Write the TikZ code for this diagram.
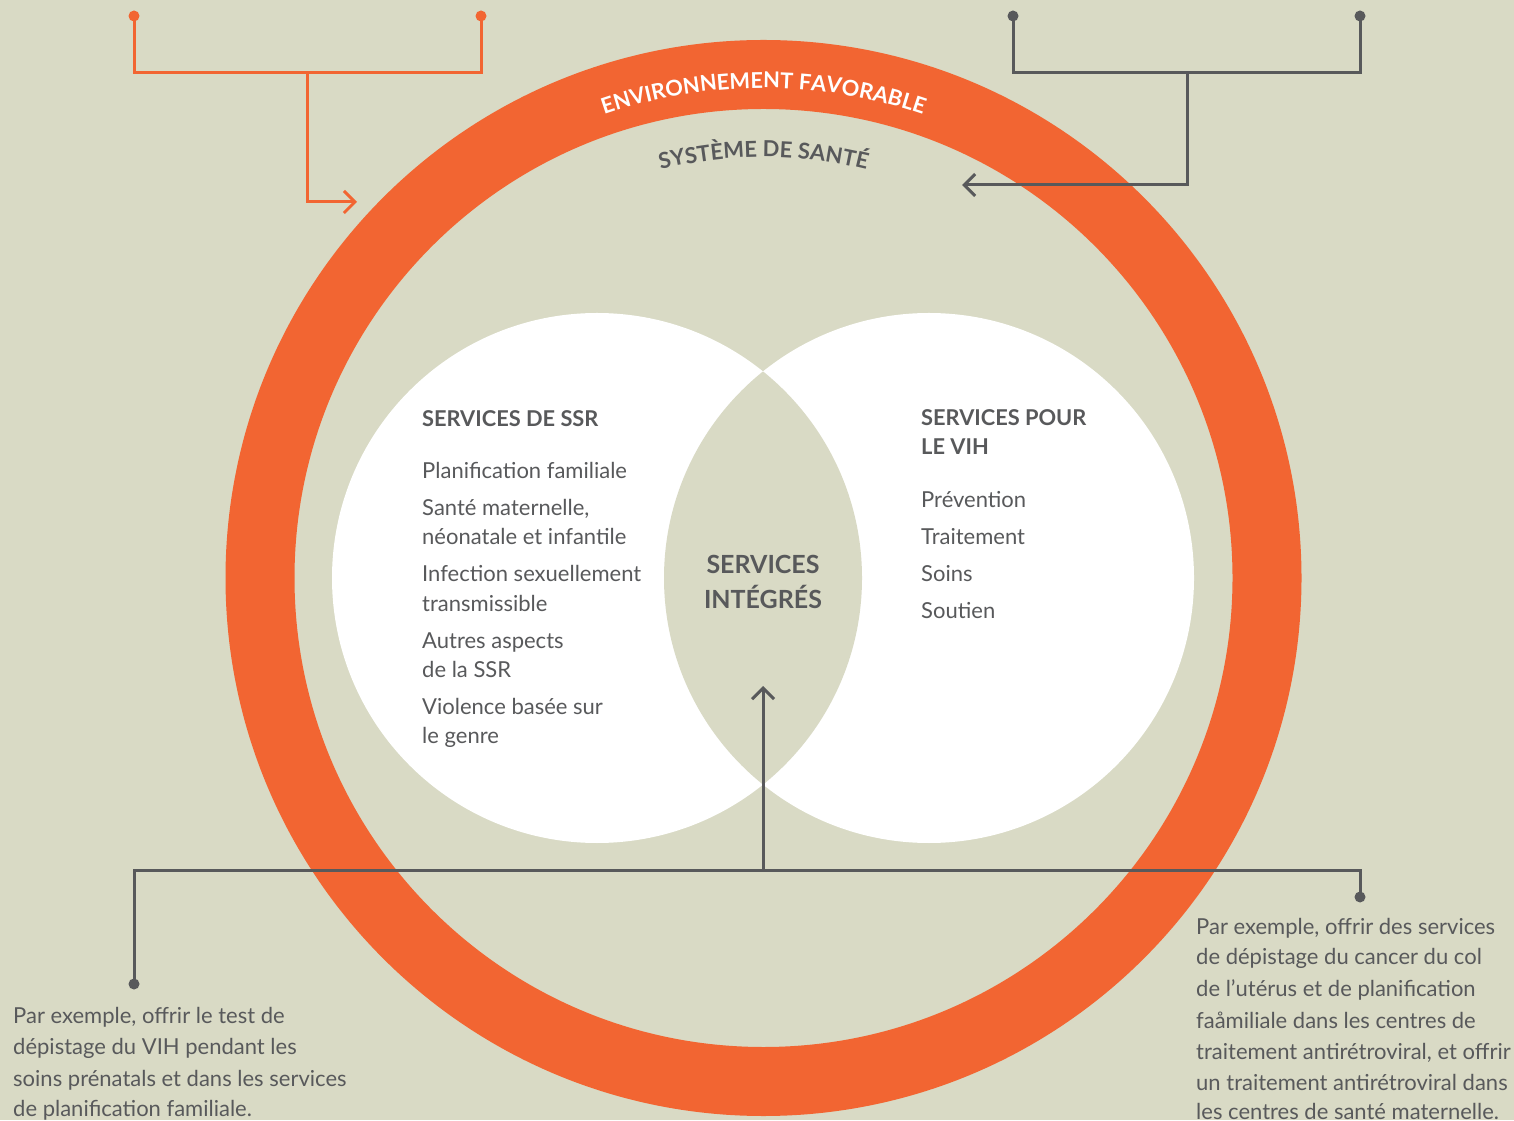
\documentclass[tikz,border=0pt]{standalone}
\usepackage{fontspec}
\setmainfont{Lato}
\usetikzlibrary{arrows.meta,decorations.text}
\definecolor{bgc}{RGB}{217,218,197}
\definecolor{ora}{RGB}{242,101,50}
\definecolor{gry}{RGB}{88,89,91}
\begin{document}
\begin{tikzpicture}[x=1pt,y=1pt,
  body/.style={anchor=base west, inner sep=0pt, text=gry, font=\fontsize{22}{26}\selectfont},
  head/.style={anchor=base west, inner sep=0pt, text=gry, font=\fontsize{21.8}{26}\selectfont\bfseries},
  mid/.style={anchor=base, inner sep=0pt, text=gry, font=\fontsize{25}{30}\selectfont\bfseries},
  odot/.style={circle, fill=ora, inner sep=0pt, minimum size=11pt},
  gdot/.style={circle, fill=gry, inner sep=0pt, minimum size=11pt},
  oline/.style={draw=ora, line width=3pt},
  gline/.style={draw=gry, line width=3pt},
  tip/.style={-{Straight Barb[length=11pt,width=22pt]}}
]
\useasboundingbox (0,0) rectangle (1514,1120);
\fill[bgc] (0,0) rectangle (1514,1120);
\coordinate (C) at (763.5,542);
\coordinate (L) at (597,542);
\coordinate (R) at (929,542);
% ring
\draw[ora, line width=69pt] (C) circle[radius=503.5pt];
% circles
\fill[white] (L) circle[radius=265pt];
\fill[white] (R) circle[radius=265pt];
\begin{scope}
  \clip (L) circle[radius=265pt];
  \fill[bgc] (R) circle[radius=265pt];
\end{scope}
% ring texts
\path[decorate, decoration={text along path, text align=center,
  text={|\fontsize{21.8}{22}\selectfont\bfseries\color{white}|ENVIRONNEMENT FAVORABLE}}]
  (C) ++(125:490pt) arc[start angle=125, end angle=55, radius=490pt];
\path[decorate, decoration={text along path, text align=center,
  text={|\fontsize{22}{22}\selectfont\bfseries\color{gry}|SYSTÈME DE SANTÉ}}]
  (C) ++(130:421pt) arc[start angle=130, end angle=50, radius=421pt];
% left circle text
\node[head] (lh) at (422,693) {SERVICES DE SSR};
\node[body] (l1) at (422,641.5) {Planification familiale};
\node[body] (l2) at (422,604.5) {Santé maternelle,};
\node[body] (l3) at (422,575.5) {néonatale et infantile};
\node[body] (l4) at (422,538.5) {Infection sexuellement};
\node[body] (l5) at (422,508.5) {transmissible};
\node[body] (l6) at (422,471.5) {Autres aspects};
\node[body] (l7) at (422,442.5) {de la SSR};
\node[body] (l8) at (422,405.5) {Violence basée sur};
\node[body] (l9) at (422,376.5) {le genre};
% right circle text
\node[head] (rh1) at (921,694) {SERVICES POUR};
\node[head] (rh2) at (921,665) {LE VIH};
\node[body] (r1) at (921,612.5) {Prévention};
\node[body] (r2) at (921,575.5) {Traitement};
\node[body] (r3) at (921,538.5) {Soins};
\node[body] (r4) at (921,501.5) {Soutien};
% centre
\node[mid] (m1) at (763,546) {SERVICES};
\node[mid] (m2) at (763,511) {INTÉGRÉS};
% bottom left text
\node[body] (bl1) at (13,97) {Par exemple, offrir le test de};
\node[body] (bl2) at (13,66) {dépistage du VIH pendant les};
\node[body] (bl3) at (13,34) {soins prénatals et dans les services};
\node[body] (bl4) at (13,4) {de planification familiale.};
% bottom right text
\node[body] (br1) at (1196,186) {Par exemple, offrir des services};
\node[body] (br2) at (1196,156) {de dépistage du cancer du col};
\node[body] (br3) at (1196,124) {de l’utérus et de planification};
\node[body] (br4) at (1196,92) {faåmiliale dans les centres de};
\node[body] (br5) at (1196,61) {traitement antirétroviral, et offrir};
\node[body] (br6) at (1196,30) {un traitement antirétroviral dans};
\node[body] (br7) at (1196,0.5) {les centres de santé maternelle.};
% orange connector
\node[odot] (o1) at (134,1104) {};
\node[odot] (o2) at (481,1104) {};
\coordinate (ol) at (134,1047);
\coordinate (or) at (481,1047);
\coordinate (oj) at (307,1047);
\coordinate (oa) at (357,918);
\draw[oline] (o1.center) -- (ol) -- (or) -- (o2.center);
\draw[oline, tip] (oj) |- (oa);
% gray connector top
\node[gdot] (g1) at (1013,1104) {};
\node[gdot] (g2) at (1360,1104) {};
\coordinate (gl) at (1013,1047);
\coordinate (gr) at (1360,1047);
\coordinate (gj) at (1187,1047);
\coordinate (ga) at (962,935);
\draw[gline] (g1.center) -- (gl) -- (gr) -- (g2.center);
\draw[gline, tip] (gj) |- (ga);
% bottom connector
\node[gdot] (b1) at (134,136) {};
\node[gdot] (b2) at (1360,223) {};
\coordinate (bl) at (134,250);
\coordinate (br) at (1360,250);
\coordinate (bj) at (763,250);
\coordinate (ba) at (763,434);
\draw[gline] (b1.center) -- (bl) -- (br) -- (b2.center);
\draw[gline, tip] (bj) -- (ba);
\end{tikzpicture}
\end{document}
